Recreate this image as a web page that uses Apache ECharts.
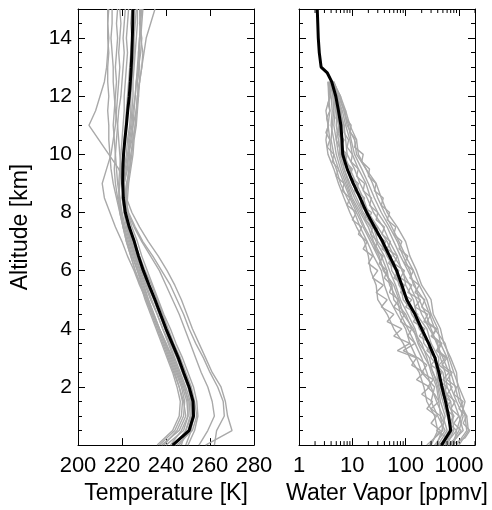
<!DOCTYPE html>
<html>
<head>
<meta charset="utf-8">
<script src="https://cdn.jsdelivr.net/npm/echarts@6/dist/echarts.min.js"></script>
<style>
html,body{margin:0;padding:0;background:#fff;}
#chart{width:492px;height:510px;}
</style>
</head>
<body>
<div id="chart"></div>
<script>
// ---------------- DATA ----------------
const alt = [0,0.5,1,1.5,2,2.5,3,3.5,4,4.5,5,5.5,6,6.5,7,7.5,8,8.5,9,9.5,10,10.5,11,11.5,12,12.5,13,13.5,14,14.5,15];
const altWV = [0,0.5,1,1.5,2,2.5,3,3.5,4,4.5,5,5.5,6,6.5,7,7.5,8,8.5,9,9.5,10,10.5,11,11.5,12,12.5];
const altWVFine = [0,0.25,0.5,0.75,1,1.25,1.5,1.75,2,2.25,2.5,2.75,3,3.25,3.5,3.75,4,4.25,4.5,4.75,5,5.25,5.5,5.75,6,6.25,6.5,6.75,7,7.25,7.5,7.75,8,8.25,8.5,8.75,9,9.25,9.5,9.75,10,10.25,10.5,10.75,11,11.25,11.5,11.75,12,12.25,12.5];

const tMean = [243,250.5,252.5,252.3,250.5,248,245.6,242.8,240,237.5,235,232.3,229.7,227.5,225.6,223.3,221.5,220.6,220.3,220.4,220.7,221.3,222,222.6,223.3,223.8,224.2,224.5,224.7,224.9,225];

const tProfiles = [
  [258,270,268,267,265,261,258,255,252,249.5,247,244,240.5,236.5,232,228,224.5,222,221,222.5,223,224.5,225,226.5,227,228,227.5,228.5,229,228,228.5],
  [262,263,266.5,266,263.5,260,257,253.5,250.5,248,245,242,238,234,229.5,226,223,221.5,222,223.5,224,225,226,226.5,227.5,228,229,229.5,228.5,229,229.5],
  [255,259,262,261,259,256,253.5,251,248.5,246,243,240,237,233,229,225.5,222.5,221,220.5,221.5,222.5,223.5,224.5,225,226,226.5,227,227.5,228,228.5,228],
  [240,248,250,249.5,247.5,245,242.5,240,237,234.5,232,229.5,227,224.5,222.5,220.5,219,218.5,219,219.5,220.5,221,221.5,222,222.5,223,223.5,224,224.5,224,224.5],
  [245,252,254,253,251.5,249,246.5,243.5,241,238.5,236,233.5,230.5,228,225.5,223,221,220,221,222,223,224,225,225.5,226,226.5,227.5,228,228,228.5,228],
  [238,246,249,248,246,243.5,241,238.5,236,233.5,231,228.5,226,224,222,220.5,219.5,219,218.5,219,219.5,220,220.5,221,221,221.5,222,222.5,222,222.5,223],
  [244,249,251,250.5,248,245.5,243,240,237,234,231,228,225.5,222.5,220,217,214.5,212,211,213,215,216,217,217.5,218,218.5,219,218.5,219,219.5,219],
  [246,251,253,252.5,250.5,248,245.5,242.5,240,237,234.5,232,229.5,227,225,223,222,221.5,221,218.5,214,209.5,205,208,210,212,213,213.5,214,213.5,214],
  [237,244,247,247.5,246,244,241.5,239,236.5,234,231.5,229,227,225,223,221,219.5,218,217,216.5,217,217.5,218,218.5,219.5,220,220.5,221,220.5,221,221.5],
  [249,251.5,252,251,249,246.5,244,241.5,238.5,236,233.5,231,228.5,226,224,222,221,221.5,222.5,223.5,224.5,225,226,226.5,227,228,229,230,231,233,235],
  [242,247,250,250,248.5,246,243.5,241,238.5,236,233,230.5,228,226,224,222.5,221.5,222,222.5,223,223.5,223,224,224.5,225,225,225.5,226,226.5,227,227],
  [250,253,254.5,254,252.5,250,247.5,244.5,242,239,236.5,234,231.5,229,227,224.5,222.5,221,220,219.5,219,218.5,218,217,216.5,216,216,215.5,215,215.5,215.5],
  [236,243,246,246.5,245,243,240.5,238,235.5,233,230.5,228.5,226,224,222,220.5,219,217.5,216,215,214.5,214,214,213.5,214,213.5,213.5,214,213.5,213.5,213.5],
  [247,249,251.5,251.5,250,247.5,245,242,239.5,237,234.5,231.5,229,226.5,224.5,222.5,221,220.5,220.5,221,222,222.5,223.5,224,224,224.5,225,225.5,225.5,226,226.5],
  [244,250,252,252,250,247.5,245,242.5,240,237.5,235,232.5,230,227.5,225.5,223.5,222,222.5,223,224,225,225.5,226.5,227,227.5,227,228,227.5,228,228.5,229],
  [239,245,248,248.5,247,244.5,242,239.5,237,234.5,232,230,227.5,225.5,223.5,221.5,220,219,218,217.5,217,216.5,216,216.5,217,217.5,217,217.5,218,217.5,218]
];

const wvMeanAlt = [0,0.5,1,1.5,2,2.5,3,3.5,4,4.5,5,5.5,6,6.5,7,7.5,8,8.5,9,9.5,10,10.5,11,11.5,12,12.5,12.8,13,13.5,14,14.5,15];
const wvMean = [470,700,640,560,480,420,355,270,200,150,105,85,68,50,37,26,18.6,14,10.4,8,6.6,6.4,6.1,5.5,4.9,4.1,3.4,2.6,2.4,2.3,2.25,2.2];

const wvProfiles = [
  [900,1400,1300,1100,950,900,700,520,450,330,300,200,160,120,100,70,45,35,28,18,12,11,8,7,5.5,4.3],
  [300,400,350,250,220,180,120,90,60,45,30,28,22,20,17,12,9,7,5.5,4.5,3.5,3.2,3.5,3.8,3.6,3.5],
  [600,800,750,700,500,400,420,300,250,160,140,100,90,60,45,30,20,16,12,9,7,6,6.5,6,5,4],
  [400,600,500,380,300,250,200,150,110,80,70,50,45,35,25,20,14,10,8,6.5,5.5,5,4.5,4.8,4.5,4],
  [700,1000,1200,900,700,650,500,380,300,240,180,150,110,80,60,45,30,22,18,13,10,9,7.5,6.5,5.2,4.2],
  [250,500,450,420,380,300,250,200,130,100,60,55,40,30,22,16,12,9,7,5.5,4.5,4,4.2,4.5,4.3,3.8],
  [550,750,600,500,420,380,350,220,200,130,110,75,65,45,35,28,18,14,10,8,6,5.5,5,5.2,4.8,4],
  [800,900,1100,1300,1000,800,650,550,350,280,220,140,120,90,70,50,35,26,20,15,11,9.5,8.5,7,5.8,4.5],
  [350,550,400,300,350,200,160,120,100,70,50,40,35,25,19,14,11,8,6,5,4,3.8,3.5,3.2,3.8,3.5],
  [450,650,800,600,550,500,300,280,180,150,90,80,55,50,30,25,16,12,9,7,6.5,5,5.5,5,4.6,3.9],
  [650,1200,1000,800,600,550,450,400,280,200,160,120,85,70,50,38,25,19,14,11,8,7.5,7,6,5.3,4.1],
  [500,700,650,550,450,320,280,180,150,110,80,65,50,40,28,22,15,11,8.5,7,5.8,6,5.5,5.5,5,4.2],
  [380,480,550,450,400,330,230,170,140,90,75,60,38,32,24,17,13,9.5,7.5,6,5,4.5,4,4.2,4,3.7],
  [1000,1500,1400,1000,850,700,600,450,400,300,250,180,140,100,75,55,40,30,24,18,13,12,9,7.5,6,4.4]
];

const wvProfilesFine = [
  [420,600,380,520,450,300,420,350,260,330,200,250,170,90,150,110,130,80,95,60,75,50,55,40,45,32,38,26,30,22,24,17,19,14,15,11,12,9,10,7.5,8,6,7,5.5,6,5,5.5,4.6,4.8,4.2,4],
  [600,900,1100,800,1000,700,850,600,750,500,650,420,560,380,450,300,380,250,300,200,230,150,180,120,140,95,110,75,85,60,65,45,50,35,38,26,28,20,21,15,16,11,12,9,9.5,7.5,7.5,6.2,6,5,4.5],
  [280,350,450,300,380,250,320,200,280,160,220,130,160,70,120,60,85,45,60,35,45,28,38,24,30,20,24,16,19,13,15,10,12,8,9,6.5,7,5,5.5,4.2,4.5,3.4,3.8,3.2,3.6,3.3,3.8,3.5,3.9,3.7,3.8],
  [500,700,900,650,800,550,700,480,600,400,480,300,380,250,300,180,230,140,170,100,130,80,95,60,75,48,55,36,42,28,30,20,23,15,17,12,13,9,9.5,7,7.5,5.8,6.5,5.2,6,5,5.4,4.6,4.8,4.3,4.1],
  [700,1300,1600,1200,1400,1000,1200,800,900,600,750,480,600,400,480,320,380,220,260,150,190,110,130,80,95,60,70,45,52,36,40,28,30,21,23,16,17,12,13,9.5,10,8,8.5,7,7,6,6.2,5.3,5.4,4.6,4.3]
];

const wvMinorTicks = [2,3,4,5,6,7,8,9,20,30,40,50,60,70,80,90,200,300,400,500,600,700,800,900,2000];

// ---------------- CHART ----------------
const FONT = "'Liberation Sans', Arial, Helvetica, sans-serif";
const GRAY = '#a9a9a9';
const chart = echarts.init(document.getElementById('chart'), null, {renderer: 'canvas'});

const axLine = {show: true, onZero: false, lineStyle: {color: '#000', width: 1}};
const yCommon = {
  type: 'value', min: 0, max: 15, interval: 2,
  axisLine: axLine,
  axisTick: {show: true, inside: true, length: 7, lineStyle: {color: '#000', width: 1}},
  minorTick: {show: true, splitNumber: 4, length: 4, lineStyle: {color: '#000', width: 1}},
  splitLine: {show: false}
};

function grayLine(xi, yi, pts) {
  return {type: 'line', xAxisIndex: xi, yAxisIndex: yi, data: pts,
    showSymbol: false, symbol: 'none', lineStyle: {color: GRAY, width: 1.4}, silent: true, animation: false, z: 2};
}

const series = [];
tProfiles.forEach(p => series.push(grayLine(0, 0, p.map((v, i) => [v, alt[i]]))));
series.push({type: 'line', xAxisIndex: 0, yAxisIndex: 0, data: tMean.map((v, i) => [v, alt[i]]),
  showSymbol: false, symbol: 'none', lineStyle: {color: '#000', width: 3}, silent: true, animation: false, z: 3});

wvProfiles.forEach(p => series.push(grayLine(2, 2, p.map((v, i) => [v, altWV[i]]))));
wvProfilesFine.forEach(p => series.push(grayLine(2, 2, p.map((v, i) => [v, altWVFine[i]]))));
series.push({type: 'line', xAxisIndex: 2, yAxisIndex: 2, data: wvMean.map((v, i) => [v, wvMeanAlt[i]]),
  showSymbol: false, symbol: 'none', lineStyle: {color: '#000', width: 3}, silent: true, animation: false, z: 3});

// minor log ticks (axis decoration) on bottom and top of water vapour panel
series.push({
  type: 'custom', xAxisIndex: 2, yAxisIndex: 2, silent: true, animation: false, clip: false, z: 5,
  data: wvMinorTicks.map(v => [v]),
  renderItem: function (params, api) {
    const v = api.value(0);
    const b = api.coord([v, 0]);
    const t = api.coord([v, 15]);
    const st = {stroke: '#000', lineWidth: 1};
    return {type: 'group', children: [
      {type: 'line', shape: {x1: b[0], y1: b[1], x2: b[0], y2: b[1] - 4}, style: st},
      {type: 'line', shape: {x1: t[0], y1: t[1], x2: t[0], y2: t[1] + 4}, style: st}
    ]};
  }
});

const option = {
  backgroundColor: '#fff',
  animation: false,
  textStyle: {fontFamily: FONT, color: '#000'},
  grid: [
    {left: 78, top: 9, width: 176, height: 442, show: false},
    {left: 299, top: 9, width: 176, height: 442, show: false}
  ],
  xAxis: [
    {type: 'value', gridIndex: 0, position: 'bottom', min: 200, max: 280, interval: 20,
      axisLine: axLine,
      axisTick: {show: true, inside: true, length: 7, lineStyle: {color: '#000'}},
      axisLabel: {show: true, margin: 10, fontSize: 22, color: '#000', fontFamily: FONT},
      splitLine: {show: false},
      name: 'Temperature [K]', nameLocation: 'middle', nameGap: 32,
      nameTextStyle: {fontSize: 23, color: '#000', fontFamily: FONT}},
    {type: 'value', gridIndex: 0, position: 'top', min: 200, max: 280, interval: 20,
      axisLine: axLine,
      axisTick: {show: true, inside: true, length: 7, lineStyle: {color: '#000'}},
      axisLabel: {show: false}, splitLine: {show: false}},
    {type: 'log', logBase: 10, gridIndex: 1, position: 'bottom', min: 1, max: 2000,
      axisLine: axLine,
      axisTick: {show: true, inside: true, length: 7, lineStyle: {color: '#000'}},
      axisLabel: {show: true, margin: 10, fontSize: 22, color: '#000', fontFamily: FONT, showMaxLabel: false,
        formatter: v => String(Math.round(v))},
      splitLine: {show: false},
      name: 'Water Vapor [ppmv]', nameLocation: 'middle', nameGap: 32,
      nameTextStyle: {fontSize: 23, color: '#000', fontFamily: FONT}},
    {type: 'log', logBase: 10, gridIndex: 1, position: 'top', min: 1, max: 2000,
      axisLine: axLine,
      axisTick: {show: true, inside: true, length: 7, lineStyle: {color: '#000'}},
      axisLabel: {show: false}, splitLine: {show: false}}
  ],
  yAxis: [
    Object.assign({}, yCommon, {gridIndex: 0, position: 'left',
      axisLabel: {show: true, margin: 6, fontSize: 21, color: '#000', fontFamily: FONT, showMinLabel: false, showMaxLabel: false},
      name: 'Altitude [km]', nameLocation: 'middle', nameGap: 46,
      nameTextStyle: {fontSize: 23, color: '#000', fontFamily: FONT}}),
    Object.assign({}, yCommon, {gridIndex: 0, position: 'right', axisLabel: {show: false}}),
    Object.assign({}, yCommon, {gridIndex: 1, position: 'left', axisLabel: {show: false}}),
    Object.assign({}, yCommon, {gridIndex: 1, position: 'right', axisLabel: {show: false}})
  ],
  series: series
};
chart.setOption(option);
</script>
</body>
</html>
